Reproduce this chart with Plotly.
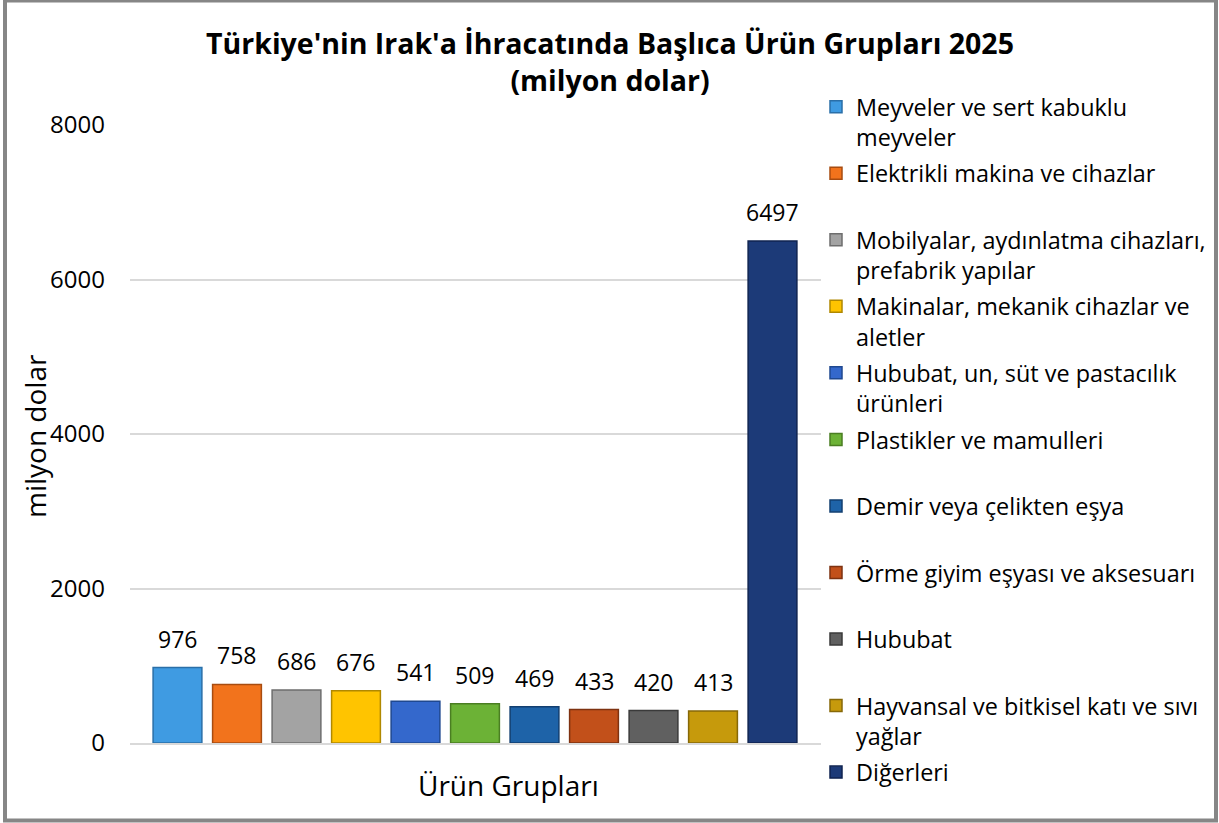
import plotly.graph_objects as go

categories = [
    "Meyveler ve sert kabuklu<br>meyveler",
    "Elektrikli makina ve cihazlar",
    "Mobilyalar, aydınlatma cihazları,<br>prefabrik yapılar",
    "Makinalar, mekanik cihazlar ve<br>aletler",
    "Hububat, un, süt ve pastacılık<br>ürünleri",
    "Plastikler ve mamulleri",
    "Demir veya çelikten eşya",
    "Örme giyim eşyası ve aksesuarı",
    "Hububat",
    "Hayvansal ve bitkisel katı ve sıvı<br>yağlar",
    "Diğerleri",
]
values = [976, 758, 686, 676, 541, 509, 469, 433, 420, 413, 6497]
colors = ["#3F9BE2", "#F2731C", "#A3A3A3", "#FFC400", "#3468CC", "#6CB236",
          "#1E63A8", "#C2501A", "#606060", "#C69A0C", "#1C3A78"]
edge_colors = ["#2A6FA8", "#A84C10", "#6E6E6E", "#B08800", "#1F4890", "#4A7E22",
               "#123F70", "#7E3210", "#3A3A3A", "#866808", "#0F2350"]
y_ticks = [0, 2000, 4000, 6000, 8000]

W, H = 1219, 823
L, R, T, B = 130, 398, 125, 80
pw, ph = W - L - R, H - T - B

FONT = "Open Sans"

fig = go.Figure()
for i, (name, v, c, ec) in enumerate(zip(categories, values, colors, edge_colors)):
    label = name if "<br>" in name else name + "<br> "
    fig.add_trace(go.Bar(
        x=[i], y=[v], name=label, width=0.82,
        marker=dict(color=c, line=dict(color=ec, width=1.5)),
        legendgroup=f"g{i}",
        hovertemplate=name.replace("<br>", " ") + ": %{y}<extra></extra>",
    ))
    fig.add_annotation(x=i, y=v, text=str(v), showarrow=False, xref="x", yref="y",
                       yanchor="bottom", yshift=11,
                       font=dict(family=FONT, size=23, color="#000000"))

def px_x(p):
    return (p - L) / pw

def px_y(p):
    return (H - B - p) / ph

# x-axis title
fig.add_annotation(x=px_x(508), y=px_y(785), xref="paper", yref="paper",
                   xanchor="center", yanchor="middle",
                   text="Ürün Grupları", showarrow=False,
                   font=dict(family=FONT, size=28, color="#000000"))
# y-axis title
fig.add_annotation(x=px_x(35), y=px_y(436), xref="paper", yref="paper",
                   xanchor="center", yanchor="middle", textangle=-90,
                   text="milyon dolar", showarrow=False,
                   font=dict(family=FONT, size=28, color="#000000"))

# chart border
fig.add_shape(type="rect", xref="paper", yref="paper",
              x0=px_x(5), x1=px_x(1216), y0=px_y(820.5), y1=px_y(0.5),
              line=dict(color="#868686", width=4), fillcolor="rgba(0,0,0,0)", layer="above")

fig.update_layout(
    width=W, height=H,
    margin=dict(l=L, r=R, t=T, b=B, autoexpand=False),
    paper_bgcolor="white", plot_bgcolor="white",
    barmode="overlay",
    font=dict(family=FONT, color="#000000"),
    title=dict(
        text="<b>Türkiye'nin Irak'a İhracatında Başlıca Ürün Grupları 2025<br>(milyon dolar)</b>",
        x=610 / W, xanchor="center", xref="container",
        y=1 - 53.5 / H, yanchor="middle", yref="container",
        font=dict(family=FONT, size=28.5, color="#000000"),
    ),
    xaxis=dict(range=[-0.798, 10.815], showticklabels=False, showgrid=False,
               zeroline=False, showline=True, linecolor="#D9D9D9", linewidth=1.5,
               ticks="", fixedrange=True),
    yaxis=dict(range=[0, 8000], tickvals=y_ticks, showgrid=True, gridcolor="#D9D9D9",
               gridwidth=1.5, zeroline=False, showline=False, ticks="",
               ticklabelstandoff=24,
               tickfont=dict(family=FONT, size=24, color="#000000")),
    legend=dict(
        x=px_x(816), xanchor="left", xref="paper",
        y=1 - 85 / H, yanchor="top", yref="container",
        valign="top", tracegroupgap=2.7, maxheight=1,
        font=dict(family=FONT, size=23.4, color="#000000"),
        bgcolor="rgba(0,0,0,0)",
    ),
    showlegend=True,
)

fig.write_html("out.html", config={"displayModeBar": False},
               post_script="document.body.style.margin='0px';")
